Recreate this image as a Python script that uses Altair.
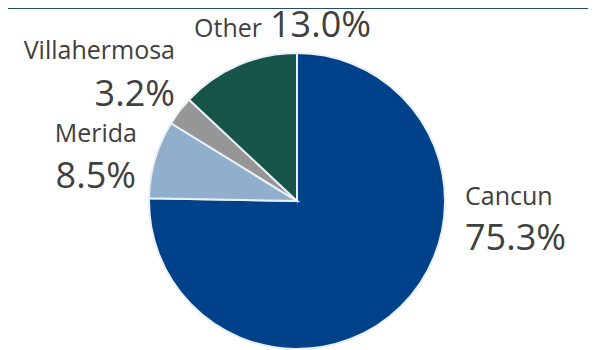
import altair as alt
import pandas as pd

# data
cities = ["Cancun", "Merida", "Villahermosa", "Other"]
shares = [75.3, 8.5, 3.2, 13.0]
share_labels = ["75.3%", "8.5%", "3.2%", "13.0%"]

# styling / layout (kept apart from the data)
colors = ["#00428A", "#8FAFCD", "#969696", "#17544A"]
name_x = [457, 129, 167, 254]
name_y = [197, 134, 51, 29]
name_align = ["left", "right", "right", "right"]
val_x = [457, 128, 167, 262]
val_y = [242, 180, 98, 29]
val_align = ["left", "right", "right", "left"]

W, H = 580, 342
CX, CY, R = 289, 193, 148
FONT = "Open Sans"
TXT = "#404040"

df = pd.DataFrame({
    "city": cities, "share": shares, "label": share_labels,
    "idx": list(range(len(cities))),
    "nx": name_x, "ny": name_y, "na": name_align,
    "vx": val_x, "vy": val_y, "va": val_align,
})

base = alt.Chart(df)

pie = base.mark_arc(outerRadius=R, stroke="#EAF0F5", strokeWidth=2).encode(
    theta=alt.Theta("share:Q", stack=True),
    color=alt.Color("city:N", scale=alt.Scale(domain=cities, range=colors), legend=None),
    order=alt.Order("idx:Q"),
    x=alt.value(CX),
    y=alt.value(CY),
)

layers = [pie]
for al in ["left", "right"]:
    layers.append(
        base.transform_filter(alt.datum.na == al)
        .mark_text(font=FONT, fontSize=25, color=TXT, align=al, baseline="alphabetic")
        .encode(x=alt.X("nx:Q", scale=None), y=alt.Y("ny:Q", scale=None), text="city:N")
    )
    layers.append(
        base.transform_filter(alt.datum.va == al)
        .mark_text(font=FONT, fontSize=36, color=TXT, align=al, baseline="alphabetic")
        .encode(x=alt.X("vx:Q", scale=None), y=alt.Y("vy:Q", scale=None), text="label:N")
    )

topline = alt.Chart(pd.DataFrame({"a": [0]})).mark_rule(color="#1F4E79", strokeWidth=2).encode(
    x=alt.value(0), x2=alt.value(W), y=alt.value(0)
)
layers.append(topline)

chart = alt.layer(*layers).properties(
    width=W, height=H, padding=0,
    autosize=alt.AutoSizeParams(type="none"),
).configure_view(stroke=None)

chart.save("out.html", embed_options={"renderer": "svg", "actions": False})
